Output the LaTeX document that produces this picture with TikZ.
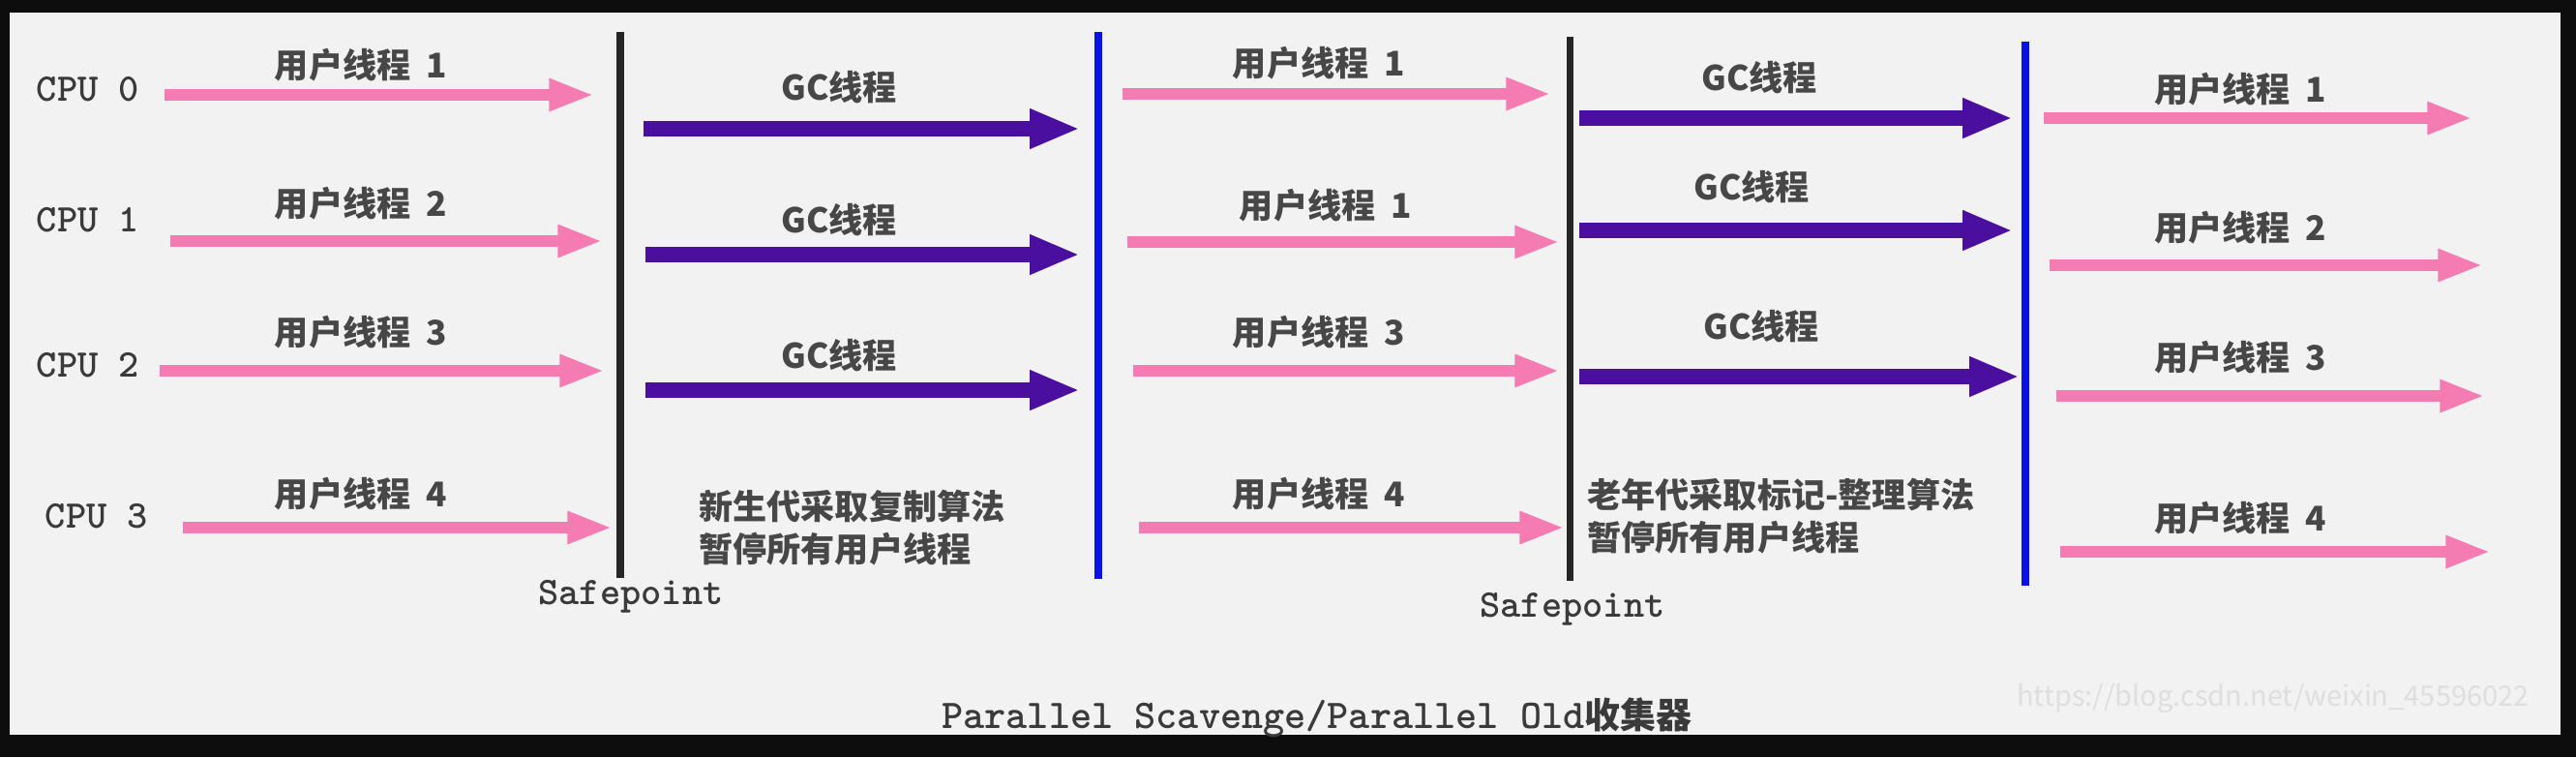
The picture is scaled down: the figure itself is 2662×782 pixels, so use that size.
\documentclass[tikz,border=0pt]{standalone}
\usepackage{fontspec}
\newfontfamily\cjk{Noto Sans CJK SC}
\usepackage{xcolor}
\definecolor{userColor}{HTML}{F57CB2}
\definecolor{gcColor}{HTML}{4B0F9F}
\definecolor{stopColor}{HTML}{0A12E6}
\definecolor{safeColor}{HTML}{262626}
\definecolor{panelColor}{HTML}{F2F2F2}
\definecolor{frameColor}{HTML}{0D0D0D}
\definecolor{textColor}{HTML}{3A3A3A}
\definecolor{labelColor}{HTML}{474747}
\definecolor{markColor}{HTML}{DEDEDE}
\usepackage{tikz}
\usetikzlibrary{arrows.meta, positioning}

\begin{document}
\begin{tikzpicture}[x=0.02cm, y=-0.02cm,
        user/.style={line width=6.8pt, userColor, -{Triangle[length=26.5pt, width=17.5pt]}},
        gc/.style={line width=9.6pt, gcColor, -{Triangle[length=29.5pt, width=21.5pt]}},
        safe/.style={line width=4pt, safeColor},
        stop/.style={line width=4.5pt, stopColor},
        cpu/.style={font=\ttfamily\bfseries\fontsize{23}{23}\selectfont, text=textColor, inner sep=0pt},
        lbl/.style={font=\cjk\bfseries\fontsize{20}{20}\selectfont, text=labelColor, inner sep=0pt},
        note/.style={lbl, align=left, anchor=west, font=\cjk\bfseries\fontsize{20}{25}\selectfont}]
        % Frame and panel
        \fill[frameColor] (0,0) rectangle (2662,782);
        \fill[panelColor] (10,13) rectangle (2646,759);

        % CPUs
        \foreach \r/\x/\y in {0/91/92, 1/91/227, 2/91/377, 3/100/533}
            \node[cpu] (cpu\r) at (\x,\y) {CPU \r};

        % User threads before the first safepoint
        \foreach \r/\xa/\xb/\y/\ly/\n in {0/170/614/98/67/1, 1/176/623/249/210/2, 2/165/625/383/343/3, 3/189/633/545/510/4} {
            \coordinate (ua\r) at (\xa,\y);
            \coordinate (ub\r) at (\xb,\y);
            \draw[user] (ua\r) -- (ub\r);
            \node[lbl] (uat\r) at (373,\ly) {用户线程~~\n};
        }

        % First safepoint
        \coordinate (sp1t) at (641,33);
        \coordinate (sp1b) at (641,597);
        \draw[safe] (sp1t) -- (sp1b);
        \node[cpu, anchor=north] (sp1) at (652,599) {Safepoint};

        % Young generation GC threads
        \foreach \r/\xa/\y/\ly in {0/665/133/90, 1/667/263/227, 2/667/403/367} {
            \coordinate (ga\r) at (\xa,\y);
            \coordinate (gb\r) at (1116,\y);
            \draw[gc] (ga\r) -- (gb\r);
            \node[lbl] (gat\r) at (867,\ly) {GC线程};
        }
        \node[note] (young) at (722,545) {新生代采取复制算法\\暂停所有用户线程};

        % End of young GC
        \coordinate (st1t) at (1135,33);
        \coordinate (st1b) at (1135,598);
        \draw[stop] (st1t) -- (st1b);

        % User threads between the two pauses
        \foreach \r/\xa/\xb/\y/\lx/\ly/\n in {0/1160/1603/97/1363/65/1, 1/1165/1612/250/1370/212/1, 2/1171/1612/383/1363/343/3, 3/1177/1617/545/1363/510/4} {
            \coordinate (uc\r) at (\xa,\y);
            \coordinate (ud\r) at (\xb,\y);
            \draw[user] (uc\r) -- (ud\r);
            \node[lbl] (uct\r) at (\lx,\ly) {用户线程~~\n};
        }

        % Second safepoint
        \coordinate (sp2t) at (1622,38);
        \coordinate (sp2b) at (1622,600);
        \draw[safe] (sp2t) -- (sp2b);
        \node[cpu, anchor=north] (sp2) at (1625,612) {Safepoint};

        % Old generation GC threads
        \foreach \r/\xb/\y/\lx/\ly in {0/2080/122/1818/80, 1/2080/238/1810/193, 2/2087/389/1820/337} {
            \coordinate (gc\r) at (1632,\y);
            \coordinate (gd\r) at (\xb,\y);
            \draw[gc] (gc\r) -- (gd\r);
            \node[lbl] (gct\r) at (\lx,\ly) {GC线程};
        }
        \node[note] (old) at (1640,533) {老年代采取标记-整理算法\\暂停所有用户线程};

        % End of old GC
        \coordinate (st2t) at (2093,43);
        \coordinate (st2b) at (2093,605);
        \draw[stop] (st2t) -- (st2b);

        % User threads after the second pause
        \foreach \r/\xa/\xb/\y/\ly/\n in {0/2112/2555/122/92/1, 1/2118/2566/274/235/2, 2/2125/2568/409/369/3, 3/2129/2574/570/535/4} {
            \coordinate (ue\r) at (\xa,\y);
            \coordinate (uf\r) at (\xb,\y);
            \draw[user] (ue\r) -- (uf\r);
            \node[lbl] (uet\r) at (2315,\ly) {用户线程~~\n};
        }

        % Caption and watermark
        \node[anchor=base west, inner sep=0pt, text=textColor] (title) at (973,752)
            {{\ttfamily\bfseries\fontsize{24}{24}\selectfont Parallel Scavenge/Parallel Old}{\cjk\bfseries\fontsize{21}{21}\selectfont 收集器}};
        \node[anchor=west, inner sep=0pt, text=markColor, font=\cjk\fontsize{16.5}{16.5}\selectfont] (mark) at (2084,722) {https://blog.csdn.net/weixin\_45596022};
    \end{tikzpicture}
\end{document}
